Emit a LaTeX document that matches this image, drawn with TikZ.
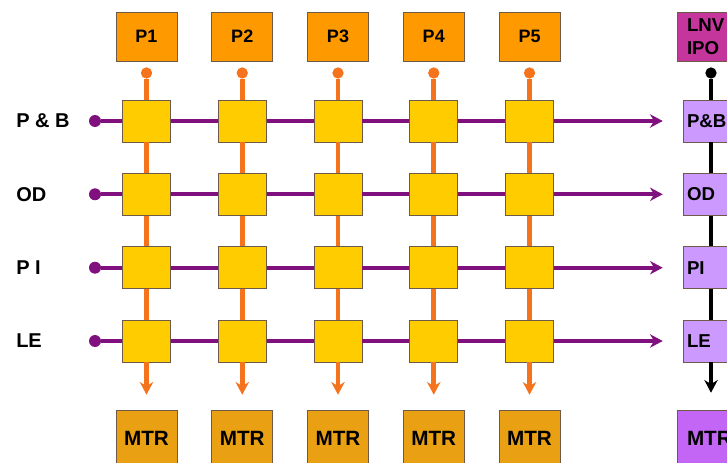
\documentclass[tikz,border=0pt]{standalone}
\usepackage{fontspec}
\setmainfont{Liberation Sans}
\usepackage{xcolor}
\usetikzlibrary{positioning}
\usetikzlibrary{arrows.meta}
\definecolor{procorange}{HTML}{FF9900}
\definecolor{mtrorange}{HTML}{E9A012}
\definecolor{cellyellow}{HTML}{FFCC00}
\definecolor{boxedge}{HTML}{6E5A48}
\definecolor{wireorange}{HTML}{F5731C}
\definecolor{wirepurple}{HTML}{80107E}
\definecolor{headmagenta}{HTML}{C4369C}
\definecolor{stagelilac}{HTML}{CC99FF}
\definecolor{sinkviolet}{HTML}{C466F5}
\tikzset{
    procbox/.style={draw=boxedge, fill=procorange, minimum width=45.75pt, minimum height=36.75pt, font=\bfseries\fontsize{13.5}{15}\selectfont},
    mtrbox/.style={draw=boxedge, fill=mtrorange, minimum width=45.75pt, minimum height=42pt, font=\bfseries\fontsize{15.5}{17}\selectfont},
    cellbox/.style={draw=boxedge, fill=cellyellow, minimum width=36pt, minimum height=31.5pt},
    headbox/.style={draw=boxedge, fill=headmagenta, text width=36pt, inner xsep=7.5pt, align=left, minimum height=36.75pt, font=\bfseries\fontsize{14}{17}\selectfont},
    stagebox/.style={draw=boxedge, fill=stagelilac, text width=36pt, inner xsep=3pt, align=left, minimum height=31.5pt, font=\bfseries\fontsize{14}{16}\selectfont},
    sinkbox/.style={draw=boxedge, fill=sinkviolet, text width=36pt, inner xsep=7.5pt, align=left, minimum height=42pt, font=\bfseries\fontsize{15.5}{17}\selectfont},
    rowlabel/.style={anchor=west, inner sep=0pt, font=\bfseries\fontsize{15}{17}\selectfont},
    odot/.style={circle, fill=wireorange, inner sep=0pt, minimum size=8.5pt},
    pdot/.style={circle, fill=wirepurple, inner sep=0pt, minimum size=9pt},
    kdot/.style={circle, fill=black, inner sep=0pt, minimum size=8.5pt},
    owire/.style={draw=wireorange, line width=3.5pt},
    pwire/.style={draw=wirepurple, line width=3pt},
    kwire/.style={draw=black, line width=3pt}
}

\begin{document}
\begin{tikzpicture}[x=0.75pt, y=-0.75pt, >={Stealth[length=9.5pt, width=10pt, inset=3pt]}]
    \useasboundingbox (0,0) rectangle (727,463);

    % Process columns
    \foreach \i/\x in {1/146.5, 2/242.25, 3/338, 4/433.75, 5/529.5} {
        \node[procbox] (p\i) at (\x,36.5) {P\i};
        \node[odot] (d\i) at (\x,73) {};
        \foreach \j/\y in {1/121, 2/194.3, 3/267.7, 4/341} {
            \node[cellbox] (c\i\j) at (\x,\y) {};
        }
        \node[mtrbox] (m\i) at (\x,438) {MTR};
        \draw[owire] (d\i) -- (c\i1) -- (c\i2) -- (c\i3) -- (c\i4);
        \draw[owire, ->, shorten >=11.25pt] (c\i4) -- (m\i);
    }

    % Stage rows
    \foreach \j/\y/\t/\s in {1/121/{P \& B}/{P\&B}, 2/194.3/OD/OD, 3/267.7/{P I}/PI, 4/341/LE/LE} {
        \node[rowlabel] (t\j) at (16,\y) {\t};
        \node[pdot] (l\j) at (95,\y) {};
        \node[stagebox] (r\j) at (711,\y) {\s};
        \draw[pwire] (l\j) -- (c1\j) -- (c2\j) -- (c3\j) -- (c4\j) -- (c5\j);
        \draw[pwire, ->, shorten >=15pt] (c5\j) -- (r\j);
    }

    % Right column
    \node[headbox] (lnv) at (711,36.5) {LNV\\IPO};
    \node[kdot] (kd) at (711,73) {};
    \node[sinkbox] (rm) at (711,438) {MTR};
    \draw[kwire] (kd) -- (r1) -- (r2) -- (r3) -- (r4);
    \draw[kwire, ->, shorten >=12.75pt] (r4) -- (rm);
\end{tikzpicture}
\end{document}
